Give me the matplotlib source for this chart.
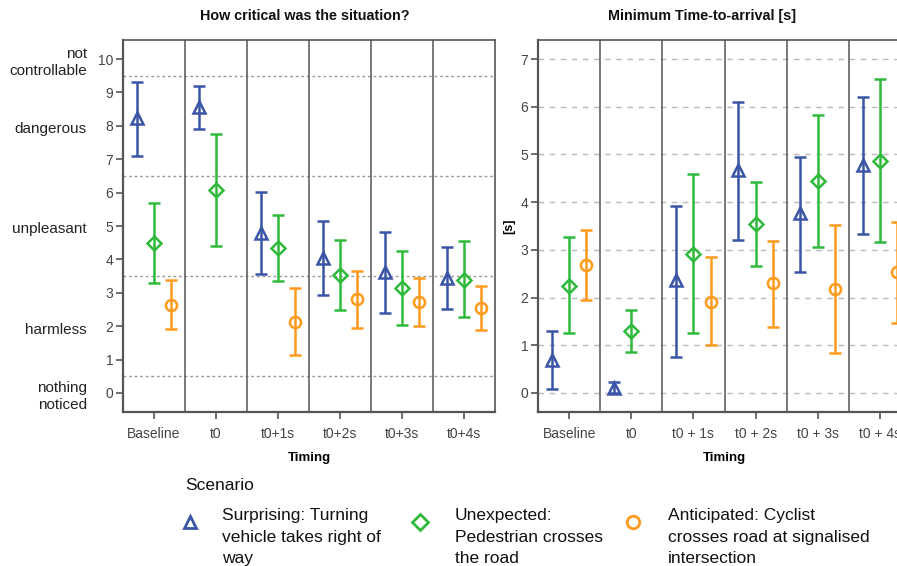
import numpy as np
import matplotlib
matplotlib.use('Agg')
import matplotlib.pyplot as plt
from matplotlib.lines import Line2D

plt.rcParams['font.family'] = ['Liberation Sans', 'DejaVu Sans']

# ─────────────────────────────────────────────
# Data
# ─────────────────────────────────────────────
timing_left  = ['Baseline', 't0', 't0+1s', 't0+2s', 't0+3s', 't0+4s']
timing_right = ['Baseline', 't0', 't0 + 1s', 't0 + 2s', 't0 + 3s', 't0 + 4s']

scenarios = ['Surprising: Turning\nvehicle takes right of\nway',
             'Unexpected:\nPedestrian crosses\nthe road',
             'Anticipated: Cyclist\ncrosses road at signalised\nintersection']

# criticality rating (mean, lower CI, upper CI)
crit_surprising_mean = [8.22, 8.57, 4.80, 4.04, 3.63, 3.45]
crit_surprising_lo   = [7.10, 7.90, 3.56, 2.93, 2.40, 2.50]
crit_surprising_hi   = [9.30, 9.20, 6.02, 5.15, 4.81, 4.37]

crit_unexpected_mean = [4.50, 6.08, 4.33, 3.53, 3.13, 3.38]
crit_unexpected_lo   = [3.30, 4.40, 3.36, 2.49, 2.04, 2.26]
crit_unexpected_hi   = [5.68, 7.75, 5.32, 4.58, 4.26, 4.55]

crit_anticipated_mean = [2.64, np.nan, 2.13, 2.80, 2.72, 2.54]
crit_anticipated_lo   = [1.91, np.nan, 1.13, 1.94, 2.00, 1.89]
crit_anticipated_hi   = [3.38, np.nan, 3.13, 3.65, 3.45, 3.20]

# minimum time-to-arrival [s]
tta_surprising_mean = [0.69, 0.10, 2.37, 4.68, 3.77, 4.78]
tta_surprising_lo   = [0.08, 0.00, 0.76, 3.21, 2.54, 3.33]
tta_surprising_hi   = [1.29, 0.22, 3.91, 6.11, 4.95, 6.20]

tta_unexpected_mean = [2.25, 1.29, 2.91, 3.54, 4.45, 4.87]
tta_unexpected_lo   = [1.25, 0.85, 1.26, 2.66, 3.07, 3.16]
tta_unexpected_hi   = [3.26, 1.73, 4.58, 4.42, 5.83, 6.59]

tta_anticipated_mean = [2.68, np.nan, 1.91, 2.30, 2.17, 2.53]
tta_anticipated_lo   = [1.95, np.nan, 1.01, 1.39, 0.83, 1.46]
tta_anticipated_hi   = [3.42, np.nan, 2.84, 3.19, 3.52, 3.59]

crit_levels = [10, 8, 5, 2, 0]
crit_level_labels = ['not\ncontrollable', 'dangerous', 'unpleasant', 'harmless', 'nothing\nnoticed']
crit_borders = [9.5, 6.5, 3.5, 0.5]

# ─────────────────────────────────────────────
# Style
# ─────────────────────────────────────────────
COLORS  = ['#3a55a6', '#2fba3c', '#ff9a1c']
MARKERS = ['^', 'D', 'o']
MSIZES  = [8, 7, 8]
OFFSETS = [-0.28, 0.0, 0.28]
SPINE   = '#555555'
TICKCOL = '#444444'


def draw_panel(ax, labels, means, los, his):
    x = np.arange(len(labels))
    for k in range(3):
        m = np.array(means[k], dtype=float)
        lo = np.array(los[k], dtype=float)
        hi = np.array(his[k], dtype=float)
        ax.errorbar(x + OFFSETS[k], m, yerr=[m - lo, hi - m],
                    fmt=MARKERS[k], color=COLORS[k], mfc='none', mec=COLORS[k],
                    ms=MSIZES[k], mew=1.8, elinewidth=1.8, capsize=4.5,
                    capthick=1.8, zorder=3)
    for b in np.arange(len(labels) - 1) + 0.5:
        ax.axvline(b, color=SPINE, lw=1.1, zorder=1)
    ax.set_xlim(-0.5, len(labels) - 0.5)
    ax.set_xticks(x)
    ax.set_xticklabels(labels)
    for s in ax.spines.values():
        s.set_color(SPINE)
        s.set_linewidth(1.2)
    ax.spines['left'].set_linewidth(1.6)
    ax.spines['bottom'].set_linewidth(1.6)
    ax.tick_params(axis='both', colors=SPINE, labelcolor=TICKCOL, labelsize=10,
                   length=5, width=1.2, pad=2)
    ax.tick_params(axis='x', pad=6)
    ax.set_xlabel('Timing', fontsize=9.5, fontweight='bold', labelpad=8)


fig = plt.figure(figsize=(8.97, 5.66), dpi=100)
W, H = 897, 566

# left panel: criticality
axL = fig.add_axes([123 / W, 1 - 412 / H, 372 / W, 372 / H])
draw_panel(axL, timing_left,
           [crit_surprising_mean, crit_unexpected_mean, crit_anticipated_mean],
           [crit_surprising_lo, crit_unexpected_lo, crit_anticipated_lo],
           [crit_surprising_hi, crit_unexpected_hi, crit_anticipated_hi])
axL.set_ylim(-0.57, 10.57)
axL.set_yticks(range(0, 11))
for b in crit_borders:
    axL.axhline(b, color='#999999', lw=1.0, ls=(0, (2, 2)), zorder=0)
for lvl, lab in zip(crit_levels, crit_level_labels):
    axL.text(-0.097, lvl - 0.1, lab, transform=axL.get_yaxis_transform(),
             ha='right', va='center', multialignment='right',
             fontsize=11, color='#222222', linespacing=1.25)

# right panel: time-to-arrival
axR = fig.add_axes([538 / W, 1 - 412 / H, 373 / W, 372 / H])
draw_panel(axR, timing_right,
           [tta_surprising_mean, tta_unexpected_mean, tta_anticipated_mean],
           [tta_surprising_lo, tta_unexpected_lo, tta_anticipated_lo],
           [tta_surprising_hi, tta_unexpected_hi, tta_anticipated_hi])
axR.set_ylim(-0.4, 7.4)
axR.set_yticks(range(0, 8))
for v in range(0, 8):
    axR.axhline(v, color='#bbbbbb', lw=1.0, ls=(0, (4, 4)), zorder=0)
axR.set_ylabel('[s]', fontsize=9, fontweight='bold', labelpad=4)

# titles
fig.text(305 / W, 1 - 16 / H, 'How critical was the situation?',
         ha='center', va='center', fontsize=10.4, fontweight='bold', color='#111111')
fig.text(702 / W, 1 - 16 / H, 'Minimum Time-to-arrival [s]',
         ha='center', va='center', fontsize=10.4, fontweight='bold', color='#111111')

# legend
fig.text(185 / W, 1 - 486 / H, 'Scenario', ha='left', va='center',
         fontsize=12.5, color='#111111')
mark_x = [190, 420, 633]
text_x = [222, 455, 668]
for k in range(3):
    fig.add_artist(Line2D([mark_x[k] / W], [1 - 522 / H], transform=fig.transFigure,
                          marker=MARKERS[k], ms=MSIZES[k] + 1, mfc='none',
                          mec=COLORS[k], mew=2, ls='none'))
    fig.text(text_x[k] / W, 1 - 508 / H, scenarios[k], ha='left', va='top',
             fontsize=12.5, color='#111111', linespacing=1.55)

fig.savefig('out.png', dpi=100)
